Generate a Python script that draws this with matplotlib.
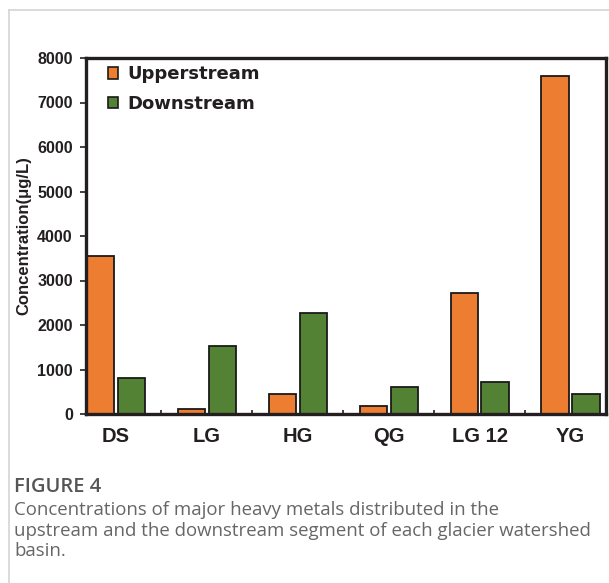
import matplotlib
matplotlib.use("Agg")
import matplotlib.pyplot as plt
import numpy as np
from matplotlib.lines import Line2D
from matplotlib.patches import Patch

categories = ["DS", "LG", "HG", "QG", "LG 12", "YG"]
upperstream = [3560, 110, 460, 170, 2725, 7585]
downstream = [820, 1525, 2280, 610, 730, 460]
yticks = [0, 1000, 2000, 3000, 4000, 5000, 6000, 7000, 8000]

W, H = 609, 583
fig = plt.figure(figsize=(W / 100, H / 100), dpi=100)
fig.patch.set_facecolor("white")

# card border (left and top)
fig.add_artist(Line2D([9 / W, 9 / W], [0, 1 - 10 / H], color="#d4d4d4", lw=1.2, transform=fig.transFigure))
fig.add_artist(Line2D([9 / W, 1], [1 - 10 / H, 1 - 10 / H], color="#d4d4d4", lw=1.2, transform=fig.transFigure))

ax = fig.add_axes([86 / W, 1 - 414 / H, (606 - 86) / W, (414 - 58) / H])

x = np.arange(len(categories))
off = 0.17
bw = 0.30
orange = "#ED7D31"
green = "#548235"
ax.bar(x - off, upperstream, bw, color=orange, edgecolor="#1a1a1a", linewidth=1.3, zorder=2)
ax.bar(x + off, downstream, bw, color=green, edgecolor="#1a1a1a", linewidth=1.3, zorder=2)

ax.set_xlim(-0.33, 5.39)
ax.set_ylim(0, 8000)

for s in ax.spines.values():
    s.set_linewidth(2.4)
    s.set_color("#231F20")

ax.set_yticks(yticks)
ax.set_yticklabels([str(v) for v in yticks], fontsize=11.5, fontweight="bold",
                   family="Liberation Sans", color="#231F20")
ax.tick_params(axis="y", direction="out", length=4, width=1.2, pad=5.5, color="#231F20")

major = sorted(list(x - off) + list(x + off) + list(x[:-1] + 0.5))
ax.set_xticks(major)
ax.set_xticklabels([""] * len(major))
ax.tick_params(axis="x", which="major", direction="in", length=3, width=1.2, color="#231F20")
ax.set_xticks(x, minor=True)
ax.set_xticklabels(categories, minor=True, fontsize=14.5, fontweight="bold",
                   family="Liberation Sans", color="#231F20")
ax.tick_params(axis="x", which="minor", length=0, pad=9.5)

ax.set_ylabel("Concentration(μg/L)", fontsize=12, fontweight="bold",
              family="Liberation Sans", color="#231F20")
ax.yaxis.set_label_coords(-0.106, 0.5)

handles = [Patch(facecolor=orange, edgecolor="#1a1a1a", linewidth=1.2),
           Patch(facecolor=green, edgecolor="#1a1a1a", linewidth=1.2)]
leg = ax.legend(handles, ["Upperstream", "Downstream"], loc="upper left",
                bbox_to_anchor=(0.042, 0.979), frameon=False, borderaxespad=0, borderpad=0,
                prop={"family": "DejaVu Sans", "weight": "bold", "size": 13},
                handlelength=0.58, handleheight=0.58, handletextpad=0.5, labelspacing=0.63)
for t in leg.get_texts():
    t.set_color("#231F20")

fig.text(14 / W, 1 - 487 / H, "FIGURE 4", fontsize=14.5, fontweight="semibold",
         fontstretch="normal", family="Open Sans", color="#555555", va="center")
caption = ["Concentrations of major heavy metals distributed in the",
           "upstream and the downstream segment of each glacier watershed",
           "basin."]
for i, line in enumerate(caption):
    fig.text(14 / W, 1 - (510 + 20.5 * i) / H, line, fontsize=13.4, family="Open Sans",
             fontstretch="normal", color="#666666", va="center")

fig.savefig("out.png", dpi=100, facecolor="white")
